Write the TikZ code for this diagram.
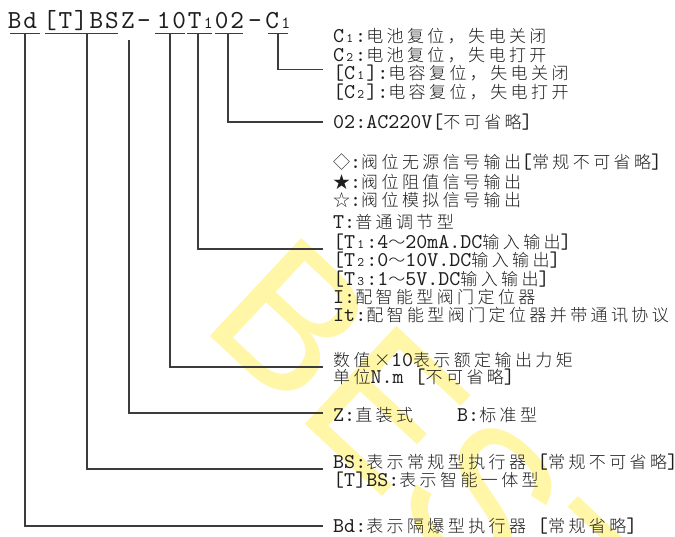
\documentclass[tikz,border=0pt]{standalone}
\usepackage{fontspec}
\newfontfamily\cjkfont[LetterSpace=20]{Noto Sans CJK SC Light}
\newfontfamily\wmfont{Liberation Sans}
\newfontfamily\codefont[LetterSpace=7]{lmmono10-regular.otf}
\newfontfamily\labmono{lmmono10-regular.otf}
\newcommand\C[1]{{\fontsize{17pt}{17pt}\cjkfont #1}}
\newcommand\sd[1]{\makebox[11pt]{\fontsize{13pt}{13pt}\selectfont #1}}
\newcommand\sdc[1]{\makebox[13.6pt]{\fontsize{17pt}{17pt}\selectfont #1}}
\definecolor{txt}{HTML}{1E1E1E}
\definecolor{ln}{HTML}{3C3C3C}
\definecolor{wm}{HTML}{FFF6A8}
\begin{document}
\begin{tikzpicture}[x=1pt,y=-1pt,
  conn/.style={draw=ln, line width=1.15pt},
  lab/.style={anchor=base west, inner sep=0pt, text=txt, font=\fontsize{21pt}{21pt}\labmono},
  seg/.style={anchor=base, inner sep=0pt, text=txt, font=\fontsize{26pt}{26pt}\codefont},
  wmark/.style={inner sep=0pt, text=wm, anchor=base west, rotate=-43, font=\fontsize{195pt}{195pt}\wmfont}]
\useasboundingbox (0,0) rectangle (675,536);
\begin{scope}
\clip (0,0) rectangle (675,536);
\node[wmark] (wmk) at (198,325) {BEST};
\end{scope}

% code string
\node[seg] (bd)  at (22.5,28.5) {Bd};
\node[seg] (tbs) at (81,28.5) {[T]BS};
\node[seg] (z)   at (128,28.5) {Z};
\node[seg] (d1)  at (144,28.5) {-};
\node[seg] (ten) at (171.5,28.5) {10};
\node[seg] (t1)  at (201.5,28.5) {T\sdc{1}};
\node[seg] (o2)  at (229.5,28.5) {02};
\node[seg] (d2)  at (255,28.5) {-};
\node[seg] (c1)  at (279,28.5) {C\sdc{1}};

% underlines
\draw[conn] (10,33.3) -- (40,33.3);
\draw[conn] (45,33.3) -- (118,33.3);
\draw[conn] (155,33.3) -- (185,33.3);
\draw[conn] (187,33.3) -- (212,33.3);
\draw[conn] (215,33.3) -- (243,33.3);
\draw[conn] (268,33.3) -- (288,33.3);

% labels
\node[lab] (lc1) at (333,42) {C\sd{1}:\C{电池复位，失电关闭}};
\node[lab] (lc2) at (333,61) {C\sd{2}:\C{电池复位，失电打开}};
\node[lab] (lc3) at (333,79.5) {[C\sd{1}]:\C{电容复位，失电关闭}};
\node[lab] (lc4) at (333,98) {[C\sd{2}]:\C{电容复位，失电打开}};
\node[lab] (l02) at (333,128) {02:AC220V[\C{不可省略}]};
\node[lab] (ls1) at (333,168) {\C{◇}:\C{阀位无源信号输出}[\C{常规不可省略}]};
\node[lab] (ls2) at (333,188) {\C{★}:\C{阀位阻值信号输出}};
\node[lab] (ls3) at (333,206.5) {\C{☆}:\C{阀位模拟信号输出}};
\node[lab] (lt)  at (333,228) {T:\C{普通调节型}};
\node[lab] (lt1) at (333,248) {[T\sd{1}:4\C{～}20mA.DC\C{输入输出}]};
\node[lab] (lt2) at (333,266) {[T\sd{2}:0\C{～}10V.DC\C{输入输出}]};
\node[lab] (lt3) at (333,285) {[T\sd{3}:1\C{～}5V.DC\C{输入输出}]};
\node[lab] (li)  at (333,303) {I:\C{配智能型阀门定位器}};
\node[lab] (lit) at (333,321.5) {It:\C{配智能型阀门定位器并带通讯协议}};
\node[lab] (ln1) at (333,366) {\C{数值×}10\C{表示额定输出力矩}};
\node[lab] (ln2) at (333,383) {\C{单位}N.m [\C{不可省略}]};
\node[lab] (lz)  at (333,421.5) {\makebox[124pt][l]{Z:\C{直装式}}B:\C{标准型}};
\node[lab] (lbs) at (333,468) {BS:\C{表示常规型执行器} [\C{常规不可省略}]};
\node[lab] (ltb) at (333,486.5) {[T]BS:\C{表示智能一体型}};
\node[lab] (lbd) at (333,532) {Bd:\C{表示隔爆型执行器} [\C{常规省略}]};

% connector points
\coordinate (ctop)  at (278,33.3);
\coordinate (otop)  at (228,33.3);
\coordinate (ttop)  at (198,33.3);
\coordinate (ntop)  at (170,33.3);
\coordinate (ztop)  at (129,39.5);
\coordinate (btop)  at (87,33.3);
\coordinate (dtop)  at (25,33.3);
\coordinate (cend) at ([xshift=-10pt,yshift=10pt]lc3.base west);
\coordinate (oend) at ([xshift=-10pt,yshift=6pt]l02.base west);
\coordinate (tend) at ([xshift=-10pt,yshift=-1pt]lt1.base west);
\coordinate (nend) at ([xshift=-10pt,yshift=-1pt]ln1.base west);
\coordinate (zend) at ([xshift=-10pt,yshift=8.5pt]lz.base west);
\coordinate (bend) at ([xshift=-10pt,yshift=-1pt]lbs.base west);
\coordinate (dend) at ([xshift=-10pt,yshift=6pt]lbd.base west);

\draw[conn] (ctop) |- (cend);
\draw[conn] (otop) |- (oend);
\draw[conn] (ttop) |- (tend);
\draw[conn] (ntop) |- (nend);
\draw[conn] (ztop) |- (zend);
\draw[conn] (btop) |- (bend);
\draw[conn] (dtop) |- (dend);
\end{tikzpicture}
\end{document}
